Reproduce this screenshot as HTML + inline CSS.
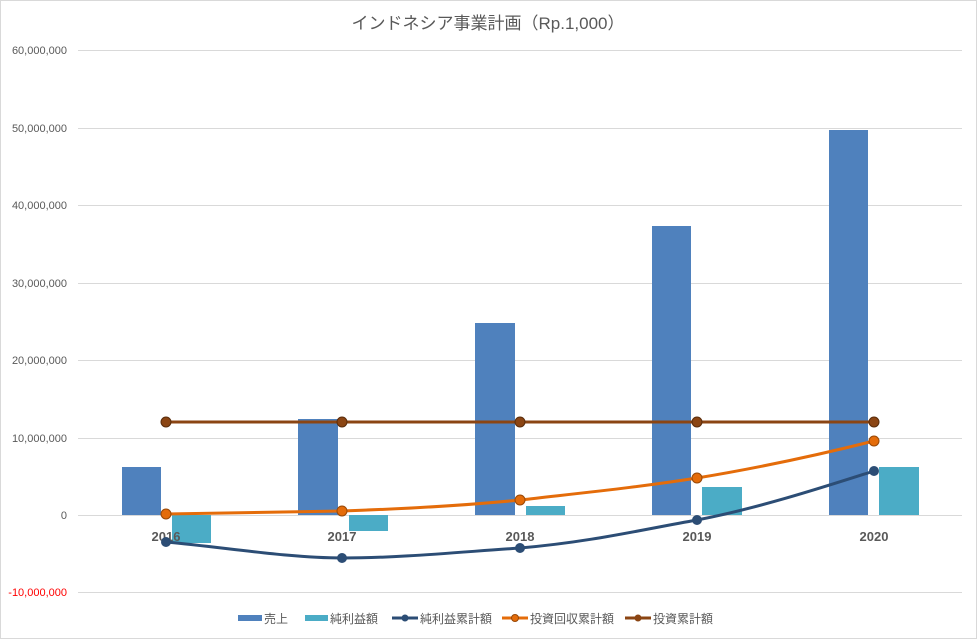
<!DOCTYPE html>
<html><head><meta charset="utf-8"><style>
body{margin:0;background:#fff}
svg{display:block}
text{font-family:"Liberation Sans","Noto Sans CJK JP",sans-serif}
</style></head><body>
<svg width="977" height="639" viewBox="0 0 977 639">
<rect x="0.5" y="0.5" width="976" height="638" fill="#fff" stroke="#d9d9d9"/>
<text x="488" y="29" font-size="17" fill="#595959" text-anchor="middle">インドネシア事業計画（Rp.1,000）</text>
<g stroke="#d9d9d9" stroke-width="1">
<line x1="78" x2="962" y1="50.5" y2="50.5"/><line x1="78" x2="962" y1="128.5" y2="128.5"/>
<line x1="78" x2="962" y1="205.5" y2="205.5"/><line x1="78" x2="962" y1="283.5" y2="283.5"/>
<line x1="78" x2="962" y1="360.5" y2="360.5"/><line x1="78" x2="962" y1="438.5" y2="438.5"/>
<line x1="78" x2="962" y1="515.5" y2="515.5"/><line x1="78" x2="962" y1="592.5" y2="592.5"/>
</g>
<g font-size="11" fill="#595959" text-anchor="end">
<text x="67" y="54">60,000,000</text><text x="67" y="132">50,000,000</text>
<text x="67" y="209">40,000,000</text><text x="67" y="287">30,000,000</text>
<text x="67" y="364">20,000,000</text><text x="67" y="442">10,000,000</text>
<text x="67" y="519">0</text><text x="67" y="596" fill="#ff0000">-10,000,000</text>
</g>
<g fill="#4f81bd">
<rect x="122" y="467" width="39" height="48"/><rect x="298" y="419" width="40" height="96"/>
<rect x="475" y="323" width="40" height="192"/><rect x="652" y="226" width="39" height="289"/>
<rect x="829" y="130" width="39" height="385"/>
</g>
<g fill="#4bacc6">
<rect x="172" y="515" width="39" height="28"/><rect x="349" y="515" width="39" height="16"/>
<rect x="526" y="506" width="39" height="9"/><rect x="702" y="487" width="40" height="28"/>
<rect x="879" y="467" width="40" height="48"/>
</g>
<g font-size="13" font-weight="bold" fill="#595959" text-anchor="middle">
<text x="166" y="541">2016</text><text x="342" y="541">2017</text><text x="520" y="541">2018</text>
<text x="697" y="541">2019</text><text x="874" y="541">2020</text>
</g>
<path d="M166,542 C230,548 290,558 342,558 C400,558 460,552 520,548 C590,542 640,530 697,520 C760,508 830,485 874,471" fill="none" stroke="#2c4d75" stroke-width="3"/>
<g fill="#2c4d75"><circle cx="166" cy="542" r="5"/><circle cx="342" cy="558" r="5"/><circle cx="520" cy="548" r="5"/><circle cx="697" cy="520" r="5"/><circle cx="874" cy="471" r="5"/></g>
<path d="M166,514 C230,513 290,512 342,511 C400,509 460,506 520,500 C590,492 640,487 697,478 C770,466 830,452 874,441" fill="none" stroke="#e46c0a" stroke-width="3"/>
<g fill="#e46c0a" stroke="#984807" stroke-width="1"><circle cx="166" cy="514" r="5"/><circle cx="342" cy="511" r="5"/><circle cx="520" cy="500" r="5"/><circle cx="697" cy="478" r="5"/><circle cx="874" cy="441" r="5"/></g>
<line x1="166" x2="874" y1="422" y2="422" stroke="#8b4513" stroke-width="3"/>
<g fill="#8b4513" stroke="#5a2d0c" stroke-width="1"><circle cx="166" cy="422" r="5"/><circle cx="342" cy="422" r="5"/><circle cx="520" cy="422" r="5"/><circle cx="697" cy="422" r="5"/><circle cx="874" cy="422" r="5"/></g>
<g font-size="12" fill="#595959">
<rect x="238" y="615" width="24" height="6" fill="#4f81bd"/><text x="264" y="623">売上</text>
<rect x="305" y="615" width="23" height="6" fill="#4bacc6"/><text x="330" y="623">純利益額</text>
<line x1="392" x2="418" y1="618" y2="618" stroke="#2c4d75" stroke-width="3"/><circle cx="405" cy="618" r="3.5" fill="#2c4d75"/><text x="420" y="623">純利益累計額</text>
<line x1="502" x2="528" y1="618" y2="618" stroke="#e46c0a" stroke-width="3"/><circle cx="515" cy="618" r="3.5" fill="#e46c0a" stroke="#984807"/><text x="530" y="623">投資回収累計額</text>
<line x1="625" x2="651" y1="618" y2="618" stroke="#8b4513" stroke-width="3"/><circle cx="638" cy="618" r="3.5" fill="#8b4513"/><text x="653" y="623">投資累計額</text>
</g>
</svg>
</body></html>
